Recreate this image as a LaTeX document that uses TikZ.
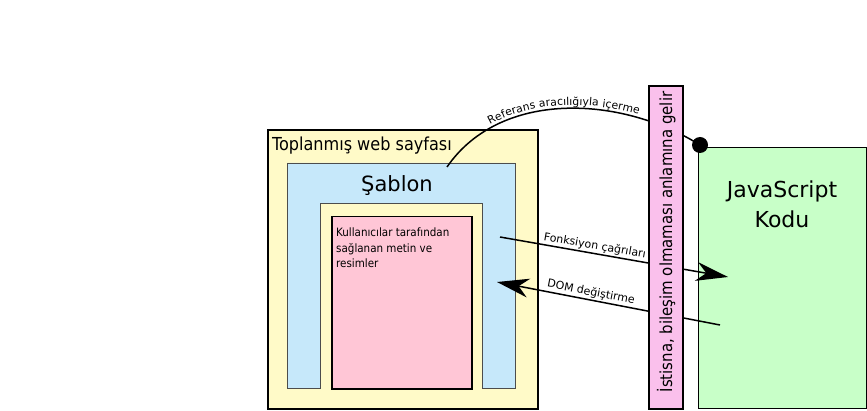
\documentclass[tikz,border=0pt]{standalone}
\usepackage{fontspec}
\setmainfont{DejaVu Sans}
\newfontfamily\cond{DejaVu Sans Condensed}
\usetikzlibrary{arrows.meta,decorations.text}
\definecolor{pageyellow}{RGB}{255,250,200}
\definecolor{tplblue}{RGB}{198,232,250}
\definecolor{userpink}{RGB}{255,198,214}
\definecolor{barpink}{RGB}{250,192,236}
\definecolor{jsgreen}{RGB}{200,255,200}
\tikzset{
 box/.style={draw=black, line width=1.6pt, inner sep=0pt, anchor=north west},
 conn/.style={line width=1.5pt},
 bigtip/.style={-{Stealth[length=32pt,width=19pt,inset=10pt]}},
 lbl/.style={font=\fontsize{11}{13}\selectfont, inner sep=1.5pt},
}
\begin{document}
\begin{tikzpicture}[x=1pt,y=-1pt]
\useasboundingbox (0,0) rectangle (867,411);
% aggregated page
\node[box, fill=pageyellow, minimum width=270pt, minimum height=279pt] (page) at (267,129) {};
\node[anchor=base west, font=\cond\fontsize{17.9}{20}\selectfont, inner sep=0pt] (pagetitle) at (272,151) {Toplanmış web sayfası};
% template (U shape)
\draw[fill=tplblue, draw=black!70, line width=0.8pt] (287,163) -- (515,163) -- (515,388) -- (482,388) -- (482,203) -- (320,203) -- (320,388) -- (287,388) -- cycle;
\node[anchor=base, font=\fontsize{21}{24}\selectfont, inner sep=0pt] (tpl) at (397,192) {Şablon};
% user content
\node[box, fill=userpink, line width=1.5pt, minimum width=140pt, minimum height=172pt] (user) at (331,216) {};
\node[anchor=north west, align=left, font=\cond\fontsize{11.5}{15.5}\selectfont, inner sep=0pt] (usertext) at (336,228) {Kullanıcılar tarafından\\sağlanan metin ve\\resimler};
% javascript code
\node[box, fill=jsgreen, line width=1.3pt, minimum width=168pt, minimum height=261pt] (js) at (698,147) {};
\node[anchor=north, align=center, font=\fontsize{22}{30}\selectfont, inner sep=0pt] (jstext) at (782,180.3) {JavaScript\\Kodu};
% reference arc
\coordinate (refstart) at (447,167);
\coordinate (refend) at (700,145);
\draw[conn, postaction={decorate, decoration={text along path, text={|\fontsize{10.8}{12}\selectfont|Referans aracılığıyla içerme}, raise=3pt, text align={left indent=60pt}}}] (refstart) .. controls (500,90) and (620,95) .. (refend);
% arrows
\coordinate (fcstart) at (500,237);
\coordinate (fcend) at (728,277);
\draw[conn, bigtip] (fcstart) -- node[lbl, sloped, above, pos=0.41] (fclabel) {Fonksiyon çağrıları} (fcend);
\coordinate (domstart) at (720,325);
\coordinate (domend) at (497,282);
\draw[conn, bigtip] (domstart) -- node[lbl, sloped, above, pos=0.585] (domlabel) {DOM değiştirme} (domend);
% barrier
\node[box, fill=barpink, line width=2.2pt, minimum width=34pt, minimum height=323pt] (bar) at (648,85) {};
\node[rotate=90, anchor=base, font=\cond\fontsize{16.6}{20}\selectfont, inner sep=0pt] (bartext) at (672,242) {İstisna, bileşim olmaması anlamına gelir};
% dot
\node[circle, fill=black, inner sep=0pt, minimum size=16pt] (dot) at (refend) {};
\end{tikzpicture}
\end{document}
